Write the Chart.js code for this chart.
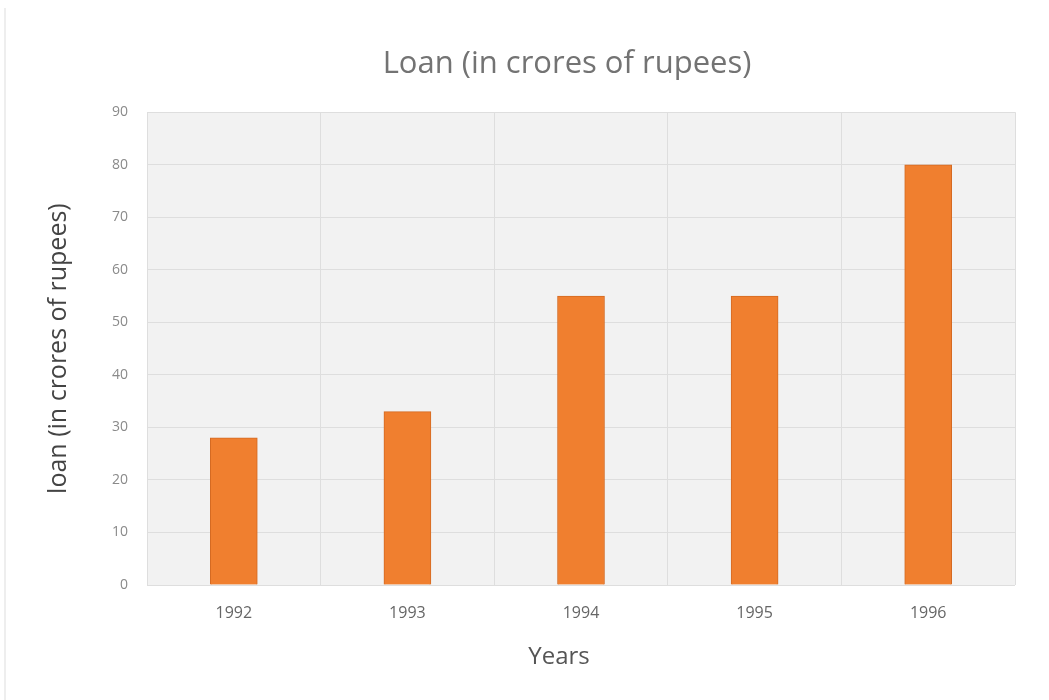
<!DOCTYPE html>
<html>
<head>
<meta charset="utf-8">
<script src="https://cdn.jsdelivr.net/npm/chart.js@4"></script>
<style>
  html, body { margin: 0; padding: 0; background: #ffffff; }
  #wrap { width: 1049px; height: 700px; }
</style>
</head>
<body>
<div id="wrap"><canvas id="loanChart" width="1049" height="700"></canvas></div>
<script>
const years = ['1992', '1993', '1994', '1995', '1996'];
const loanValues = [28, 33, 55, 55, 80];
const yTicks = [0, 10, 20, 30, 40, 50, 60, 70, 80, 90];

// grey fill behind the plot area, plus the faint frame edge on the left
const plotBackground = {
    id: 'plotBackground',
    beforeDraw(chart) {
        const { ctx, chartArea } = chart;
        ctx.save();
        ctx.fillStyle = '#f2f2f2';
        ctx.fillRect(chartArea.left, chartArea.top, chartArea.right - chartArea.left, chartArea.bottom - chartArea.top);
        ctx.strokeStyle = '#eeeeee';
        ctx.lineWidth = 2;
        ctx.beginPath();
        ctx.moveTo(5, 8);
        ctx.lineTo(5, chart.height);
        ctx.stroke();
        ctx.restore();
    }
};

// nudge the title boxes a little left of the plot centre
const titleShift = {
    id: 'titleShift',
    afterLayout(chart) {
        const shifts = { 'Loan (in crores of rupees)': 28, 'Years': 44 };
        chart.boxes.forEach(box => {
            const text = box.options && box.options.text;
            if (text in shifts) box.left -= shifts[text];
        });
    }
};

const ctx = document.getElementById('loanChart').getContext('2d');
const loanChart = new Chart(ctx, {
    type: 'bar',
    data: {
        labels: years,
        datasets: [{
            label: 'Loan',
            data: loanValues,
            backgroundColor: '#f07f2f',
            borderColor: '#d46a22',
            borderWidth: 1,
            barThickness: 47
        }]
    },
    options: {
        responsive: false,
        animation: false,
        layout: {
            padding: { left: 44, right: 34, top: 0, bottom: 28 }
        },
        plugins: {
            legend: { display: false },
            tooltip: { enabled: false },
            title: {
                display: true,
                fullSize: false,
                text: 'Loan (in crores of rupees)',
                color: '#737373',
                font: { family: 'Open Sans', size: 31, weight: 'normal' },
                padding: { top: 46, bottom: 29 }
            },
            subtitle: {
                display: true,
                position: 'bottom',
                fullSize: false,
                text: 'Years',
                color: '#555555',
                font: { family: 'Open Sans', size: 24, weight: 'normal' },
                padding: { top: 1, bottom: 0 }
            }
        },
        scales: {
            x: {
                grid: { color: '#dedede', drawTicks: false },
                border: { display: false },
                ticks: {
                    color: '#666666',
                    font: { family: 'Open Sans', size: 16 },
                    padding: 19
                }
            },
            y: {
                min: 0,
                max: 90,
                afterBuildTicks(axis) {
                    axis.ticks = yTicks.map(v => ({ value: v }));
                },
                grid: { color: '#dedede', drawTicks: false },
                border: { display: false },
                ticks: {
                    color: '#8a8a8a',
                    font: { family: 'Open Sans', size: 14 },
                    padding: 19
                },
                title: {
                    display: true,
                    text: 'loan (in crores of rupees)',
                    color: '#444444',
                    font: { family: 'Open Sans', size: 25 },
                    padding: { top: 0, bottom: 19 }
                }
            }
        }
    },
    plugins: [plotBackground, titleShift]
});
</script>
</body>
</html>
